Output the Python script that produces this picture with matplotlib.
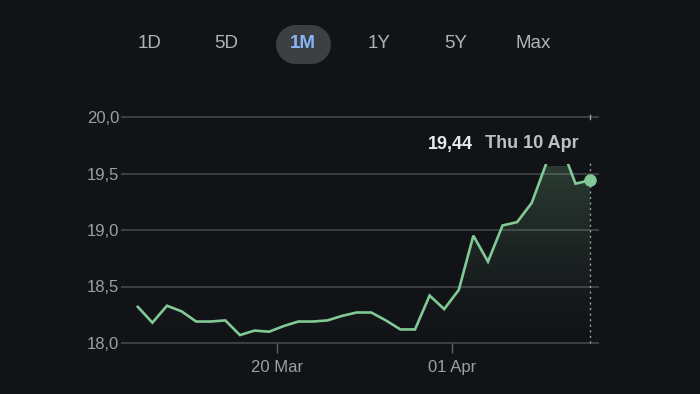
import matplotlib
matplotlib.use("Agg")
import matplotlib.pyplot as plt
import matplotlib.dates as mdates
import numpy as np
from matplotlib.colors import LinearSegmentedColormap
from matplotlib.patches import Rectangle
from matplotlib.lines import Line2D

# daily closes, 10 Mar - 10 Apr
dates = np.arange(np.datetime64("2025-03-10T11:10"), np.datetime64("2025-04-11T00:00"),
                  np.timedelta64(1, "D"))
prices = [18.32, 18.18, 18.33, 18.28, 18.19, 18.19, 18.20, 18.07, 18.11, 18.10,
          18.15, 18.19, 18.19, 18.20, 18.24, 18.27, 18.27, 18.20, 18.12, 18.12,
          18.42, 18.30, 18.47, 18.95, 18.72, 19.04, 19.07, 19.24, 19.59, 19.75,
          19.41, 19.44]
yticks = [18.0, 18.5, 19.0, 19.5, 20.0]
xtick_dates = [np.datetime64("2025-03-20"), np.datetime64("2025-04-01")]
xtick_labels = ["20 Mar", "01 Apr"]
ranges = ["1D", "5D", "1M", "1Y", "5Y", "Max"]
selected = "1M"
last_label = "19,44"
last_date = "Thu 10 Apr"

BG = "#121317"
GREEN = "#81c995"
GRID = "#3c4043"
TXT = "#9aa0a6"
plt.rcParams["font.family"] = ["Liberation Sans", "DejaVu Sans"]

W, H = 700, 394
fig = plt.figure(figsize=(W / 100, H / 100), dpi=100, facecolor=BG)
ax = fig.add_axes([122 / W, 51 / H, 476 / W, 226 / H])
ax.set_facecolor(BG)
for s in ax.spines.values():
    s.set_visible(False)

x0 = dates[0] - np.timedelta64(26, "h")
x1 = dates[-1] + np.timedelta64(13, "h")

for v in yticks:
    ax.axhline(v, color=GRID, lw=1.4, clip_on=False, zorder=1)

ax.set_yticks(yticks)
ax.set_yticklabels([f"{v:.1f}".replace(".", ",") for v in yticks])
ax.tick_params(axis="y", length=0, pad=2, labelsize=12, labelcolor=TXT)
ax.set_xticks(xtick_dates)
ax.set_xticklabels(xtick_labels)
ax.tick_params(axis="x", length=7, width=1, color="#5f6368", pad=5,
               labelsize=12, labelcolor=TXT)

# plot area is cut just under the tooltip
top = 19.565
clip = Rectangle((0, 0), 1, (top - 18.0) / 2.0 + 0.01, transform=ax.transAxes)

line, = ax.plot(dates, prices, color=GREEN, lw=1.9, zorder=4, solid_joinstyle="miter")
line.set_clip_path(clip)

poly = ax.fill_between(dates, prices, 18.0, color="none", lw=0)
cmap = LinearSegmentedColormap.from_list("g", [(0.506, 0.788, 0.584, 0.0),
                                               (0.506, 0.788, 0.584, 0.22)])
grad = np.linspace(0, 1, 256).reshape(-1, 1) ** 1.3
img = ax.imshow(grad, cmap=cmap, aspect="auto", origin="lower",
                extent=[mdates.date2num(x0), mdates.date2num(x1), 18.0, top],
                zorder=2)
img.set_clip_path(poly.get_paths()[0], transform=ax.transData)
ax.set_xlim(x0, x1)
ax.set_ylim(18.0, 20.0)

# hover marker
ax.plot([dates[-1], dates[-1]], [18.0, 19.6], color=TXT, lw=1, ls=(0, (1.5, 2.5)),
        zorder=3, clip_on=False)
ax.plot([dates[-1], dates[-1]], [19.98, 20.02], color=TXT, lw=1, zorder=3, clip_on=False)
ax.plot(dates[-1], prices[-1], "o", color=GREEN, ms=8, zorder=5, clip_on=False)

fig.text(473 / W, 1 - 144 / H, last_label, color="#e8eaed", fontsize=13,
         fontweight="bold", ha="right", va="center")
fig.text(579 / W, 1 - 144 / H, last_date, color="#bdc1c6", fontsize=13,
         fontweight="bold", ha="right", va="center")

# range buttons
bx = [150, 226, 302.5, 379, 456, 533]
by = 1 - 44 / H
for lab, x in zip(ranges, bx):
    if lab == selected:
        pill = Line2D([(x - 8) / W, (x + 8) / W], [by, by], transform=fig.transFigure,
                      color="#3c4043", lw=39 * 0.72, solid_capstyle="round")
        fig.add_artist(pill)
        fig.text(x / W, by, lab, color="#8ab4f8", fontsize=13.5, fontweight="bold",
                 ha="center", va="center")
    else:
        fig.text(x / W, by, lab, color="#aeb3ba", fontsize=13.5,
                 ha="center", va="center")

fig.savefig("out.png", dpi=100, facecolor=BG)
